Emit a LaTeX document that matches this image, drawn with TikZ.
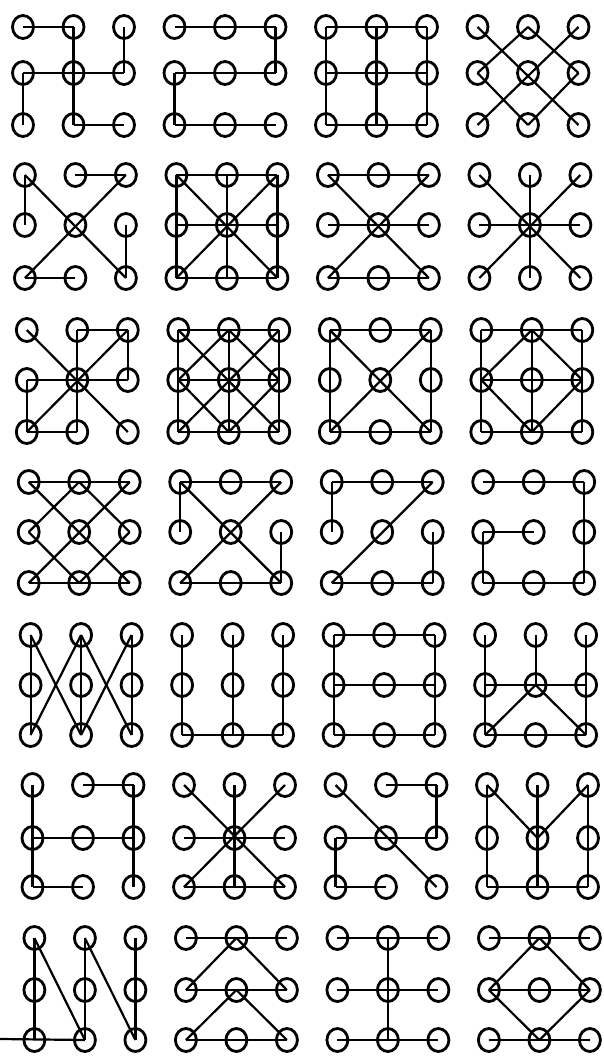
\documentclass[tikz,border=0pt]{standalone}
\usetikzlibrary{shapes.geometric}
\newcommand\pat[3]{\foreach \uu/\vv in {#3}{\draw[edge] (n#1#2\uu.center) -- (n#1#2\vv.center);}}
\begin{document}
\begin{tikzpicture}[x=1pt,y=-1pt,
  dot/.style={ellipse,draw,line width=2.8pt,minimum width=21pt,minimum height=23pt,inner sep=0pt},
  edge/.style={line width=2.2pt}]
\useasboundingbox[fill=white] (0,0) rectangle (603,1056);
\foreach \r/\ya/\yb/\yc in {1/27/73/125,2/175/225/278,3/330/380/432,4/482/532/583,5/635/685/735,6/785/838/887,7/938/990/1040}{
  \foreach \p in {1,...,4}{
    \foreach \cc/\ltop/\lmid/\lbot in {0/a/d/g,1/b/e/h,2/c/f/i}{
      \pgfmathsetmacro\xx{23+151.5*(\p-1)+50.5*\cc+1.9*(\r-1)}
      \node[dot] (n\r\p\ltop) at (\xx,\ya) {};
      \node[dot] (n\r\p\lmid) at (\xx,\yb) {};
      \node[dot] (n\r\p\lbot) at (\xx,\yc) {};
    }
  }
}
% row 1
\pat{1}{1}{a/b,b/h,d/f,d/g,c/f,h/i}
\pat{1}{2}{a/c,c/f,d/f,d/g,g/i}
\pat{1}{3}{a/c,d/f,g/i,a/g,b/h,c/i}
\pat{1}{4}{a/i,c/g,d/b,b/f,f/h,h/d}
% row 2
\pat{2}{1}{a/d,a/i,b/c,c/g,g/h,f/i}
\pat{2}{2}{a/c,g/i,a/g,c/i,b/h,d/f,a/i,c/g}
\pat{2}{3}{a/c,a/i,c/g,d/f,g/i}
\pat{2}{4}{a/i,c/g,b/h,d/f}
% row 3
\pat{3}{1}{a/i,b/c,b/h,c/f,c/g,d/f,d/g,g/h}
\pat{3}{2}{a/c,d/f,g/i,a/g,b/h,c/i,a/i,c/g,b/d,b/f,d/h,f/h}
\pat{3}{3}{a/c,c/i,g/i,a/g,a/i,c/g}
\pat{3}{4}{a/c,a/g,c/i,g/i,b/h,d/f,b/d,b/f,d/h,f/h}
% row 4
\pat{4}{1}{a/c,g/i,a/i,c/g,b/d,b/f,d/h,f/h}
\pat{4}{2}{a/c,a/d,a/i,c/g,f/i,g/i}
\pat{4}{3}{a/c,a/d,c/g,g/i,f/i}
\pat{4}{4}{a/c,c/i,g/i,d/g,d/e}
% row 5
\pat{5}{1}{a/g,b/h,c/i,a/h,b/g,b/i,c/h}
\pat{5}{2}{a/g,b/h,c/i,g/i}
\pat{5}{3}{a/c,d/f,g/i,a/g,c/i}
\pat{5}{4}{a/g,b/e,c/i,d/f,e/g,e/i,g/i}
% row 6
\pat{6}{1}{a/g,b/c,c/i,d/f,g/h}
\pat{6}{2}{a/i,c/g,b/h,d/f,g/i}
\pat{6}{3}{b/c,c/f,d/f,d/g,g/h,a/i}
\pat{6}{4}{a/g,a/e,c/e,c/i,b/h,g/i}
% row 7
\pat{7}{1}{a/g,a/h,b/h,b/i,c/i}
\coordinate (ext) at (0,1039);
\draw[edge] (ext) -- (n71h.center);
\pat{7}{2}{a/c,d/f,g/i,b/d,b/f,e/g,e/i}
\pat{7}{3}{a/c,b/h,d/f,g/i}
\pat{7}{4}{a/c,b/d,b/f,d/f,d/h,f/h,g/i}
\end{tikzpicture}
\end{document}
